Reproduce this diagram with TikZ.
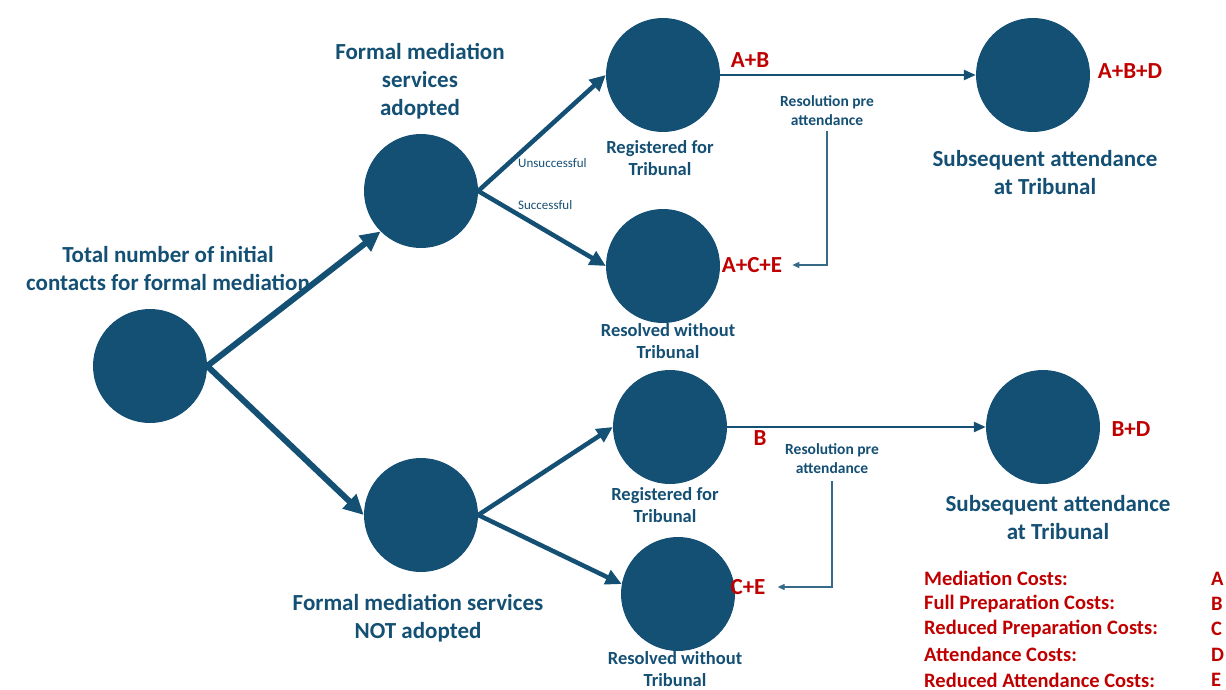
\documentclass[tikz,border=0pt]{standalone}
\usepackage{fontspec}
\setmainfont{Carlito}
\usetikzlibrary{positioning, arrows.meta}

\definecolor{navy}{RGB}{20,79,116}
\definecolor{costred}{RGB}{192,0,0}

\begin{document}
\begin{tikzpicture}[x=1pt, y=-1pt,
  stage/.style={circle, fill=navy, minimum size=114pt, inner sep=0pt},
  mlabel/.style={align=center, font=\fontsize{23}{28}\selectfont\bfseries, text=navy},
  slabel/.style={align=center, font=\fontsize{18.5}{22.5}\selectfont\bfseries, text=navy},
  tlabel/.style={align=center, font=\fontsize{15.5}{19}\selectfont\bfseries, text=navy, inner sep=1pt},
  elabel/.style={font=\fontsize{13}{15}\selectfont, text=navy, anchor=west, inner sep=0pt},
  cost/.style={font=\fontsize{23}{26}\selectfont\bfseries, text=costred, inner sep=0pt},
  legend/.style={font=\fontsize{20.5}{24}\selectfont\bfseries, text=costred, inner sep=0pt, anchor=west},
  bigflow/.style={navy, line width=6pt, -{Triangle[length=20pt, width=19pt]}},
  midflow/.style={navy, line width=4.5pt, -{Triangle[length=16pt, width=15pt]}},
  smallflow/.style={navy, line width=2.5pt, -{Triangle[length=12pt, width=10pt]}},
  resline/.style={navy!85, line width=1.2pt, -{Triangle[length=7pt, width=6pt]}},
]
  \useasboundingbox (0,0) rectangle (1226,690);

  % Stages
  \node[stage] (root) at (150,366) {};
  \node[stage] (adopt) at (421,191) {};
  \node[stage] (notad) at (421,515) {};
  \node[stage] (rega) at (663,75) {};
  \node[stage] (resa) at (663,266) {};
  \node[stage] (regb) at (670,427) {};
  \node[stage] (resb) at (678,594) {};
  \node[stage] (suba) at (1033,75) {};
  \node[stage] (subb) at (1043,427) {};

  % Stage labels
  \node[mlabel] at (168,268) {Total number of initial\\contacts for formal mediation};
  \node[mlabel] at (420,81) {Formal mediation\\services\\adopted};
  \node[mlabel] at (418,618) {Formal mediation services\\NOT adopted};
  \node[slabel] at (660,158) {Registered for\\Tribunal};
  \node[slabel] at (668,341) {Resolved without\\Tribunal};
  \node[slabel] at (665,505) {Registered for\\Tribunal};
  \node[slabel] at (675,669) {Resolved without\\Tribunal};
  \node[mlabel] at (1045,173) {Subsequent attendance\\at Tribunal};
  \node[mlabel] at (1058,518) {Subsequent attendance\\at Tribunal};

  % Main flows
  \draw[bigflow] (root.east) -- (adopt.south west);
  \draw[bigflow] (root.east) -- (notad.west);
  \draw[midflow] (adopt.east) -- (rega.west);
  \draw[midflow] (adopt.east) -- (resa.west);
  \draw[midflow] (notad.east) -- (regb.west);
  \draw[midflow] (notad.east) -- (resb.170);
  \draw[smallflow] (rega) -- (suba);
  \draw[smallflow] (regb) -- (subb);

  \node[elabel] (unsucc) at (518,163) {Unsuccessful};
  \node[elabel] (succ) at (518,205) {Successful};

  % Costs
  \node[cost] (cab) at (750,60) {A+B};
  \node[cost] (cace) at (752,265) {A+C+E};
  \node[cost] (cabd) at (1130,71) {A+B+D};
  \node[cost] (cb) at (760,438) {B};
  \node[cost] (cbd) at (1131,429) {B+D};
  \node[cost] (cce) at (748,587) {C+E};

  % Resolution before attendance
  \node[tlabel] (prea) at (827,111) {Resolution pre\\attendance};
  \node[tlabel] (preb) at (832,459) {Resolution pre\\attendance};
  \draw[resline, shorten <=4pt, shorten >=10pt] (prea.south) |- (cace.east);
  \draw[resline, shorten <=6pt, shorten >=12pt] (preb.south) |- (cce.east);

  % Legend
  \foreach \txt/\ltr [count=\i] in {Mediation Costs:/A, Full Preparation Costs:/B,
      Reduced Preparation Costs:/C, Attendance Costs:/D, Reduced Attendance Costs:/E} {
    \node[legend] (leg\i) at (924,553+25.4*\i) {\txt};
    \node[legend] (let\i) at (1211,553+25.4*\i) {\ltr};
  }
\end{tikzpicture}
\end{document}
